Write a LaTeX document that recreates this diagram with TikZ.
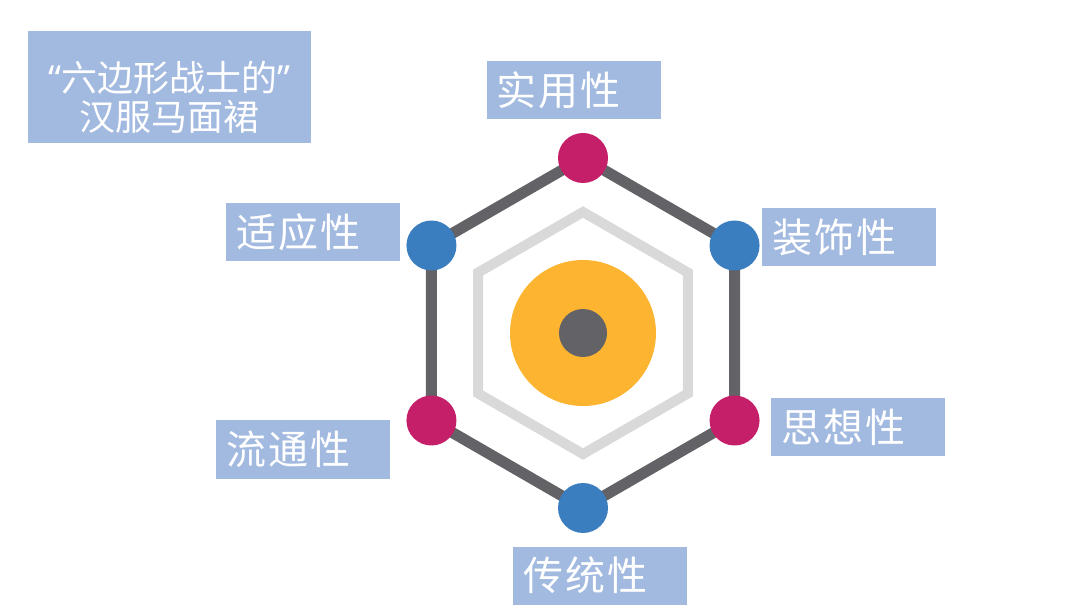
\documentclass[tikz,border=0pt]{standalone}
\usepackage{fontspec}
\usetikzlibrary{calc}
\setmainfont{Noto Sans CJK SC}
\newfontfamily\cjk{Noto Sans CJK SC}
\newfontfamily\cjklbl[LetterSpace=5]{Noto Sans CJK SC}
\newfontfamily\latinq{Noto Sans}
\definecolor{darkgrey}{HTML}{636266}
\definecolor{magentac}{HTML}{C51F6A}
\definecolor{bluec}{HTML}{3A7EC0}
\definecolor{orangec}{HTML}{FCB431}
\definecolor{lightgreyc}{HTML}{D9D9D9}
\definecolor{boxblue}{HTML}{A2B9E0}
\pgfdeclarelayer{bg}
\pgfsetlayers{bg,main}
\tikzset{
  lbl/.style={fill=boxblue, text=white, font=\cjklbl\fontsize{40}{44}\selectfont,
    minimum width=174pt, minimum height=58pt, inner xsep=10pt, inner ysep=0pt,
    text width=154pt, align=left},
  dotm/.style={circle, fill=magentac, minimum size=50pt, inner sep=0pt},
  dotb/.style={circle, fill=bluec, minimum size=50pt, inner sep=0pt},
  hexline/.style={draw=darkgrey, line width=11pt, line join=miter},
  innerhex/.style={draw=lightgreyc, line width=10pt, line join=miter},
  titlebox/.style={fill=boxblue, minimum width=283pt, minimum height=112pt, inner sep=0pt},
  titletext/.style={text=white, font=\cjk\fontsize{36}{39}\selectfont, align=center, inner sep=0pt}
}
\begin{document}
\begin{tikzpicture}[x=1pt,y=1pt]
\useasboundingbox (0,0) rectangle (1080,614);
\coordinate (c) at (583,281);
% title
\node[titlebox] (title) at (169.5,527) {};
\node[titletext] (titlet) at ([yshift=-10pt]title.center) {{\latinq “}六边形战士的{\latinq ”}\\汉服马面裙};
% inner grey hexagon
\draw[innerhex] ($(c)+(90:121)$) -- ($(c)+(30:121)$) -- ($(c)+(-30:121)$) -- ($(c)+(-90:121)$) -- ($(c)+(-150:121)$) -- ($(c)+(150:121)$) -- cycle;
% central circles
\node[circle, fill=orangec, minimum size=146pt, inner sep=0pt] (core) at (c) {};
\node[circle, fill=darkgrey, minimum size=48pt, inner sep=0pt] (dot) at (c) {};
% vertices
\node[dotm] (v1) at ($(c)+(90:175)$) {};
\node[dotb] (v2) at ($(c)+(30:175)$) {};
\node[dotm] (v3) at ($(c)+(-30:175)$) {};
\node[dotb] (v4) at ($(c)+(-90:175)$) {};
\node[dotm] (v5) at ($(c)+(-150:175)$) {};
\node[dotb] (v6) at ($(c)+(150:175)$) {};
\begin{pgfonlayer}{bg}
\draw[hexline] (v1.center) -- (v2.center) -- (v3.center) -- (v4.center) -- (v5.center) -- (v6.center) -- cycle;
\end{pgfonlayer}
% labels
\node[lbl] (l1) at (573.5,524) {实用性};
\node[lbl] (l2) at (849,376.5) {装饰性};
\node[lbl] (l3) at (858,187) {思想性};
\node[lbl] (l4) at (600,38.5) {传统性};
\node[lbl] (l5) at (303,164.5) {流通性};
\node[lbl] (l6) at (313,382) {适应性};
\end{tikzpicture}
\end{document}
